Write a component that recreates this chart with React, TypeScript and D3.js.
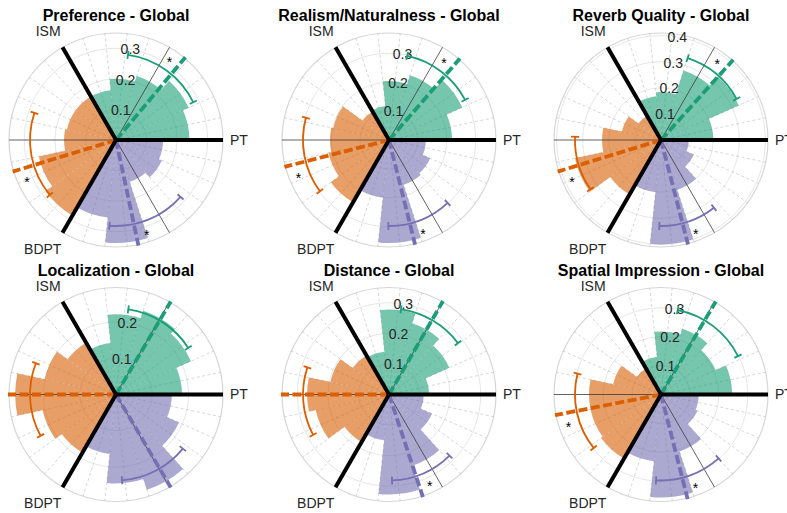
import React, { useRef, useEffect } from "react";
import * as d3 from "d3";

// bins are 24 degrees wide, 5 per sector (PT->ISM green, ISM->BDPT orange, BDPT->PT purple)
const binStarts = [0, 24, 48, 72, 96, 120, 144, 168, 192, 216, 240, 264, 288, 312, 336];
const groupColors = ["#1b9e77", "#d95f02", "#7570b3"];
const sectorLabels = ["PT", "ISM", "BDPT"];
const sectorAngles = [0, 120, 240];
const midAngles = [60, 180, 300];

const titles = [
  "Preference - Global",
  "Realism/Naturalness - Global",
  "Reverb Quality - Global",
  "Localization - Global",
  "Distance - Global",
  "Spatial Impression - Global",
];
const rLims = [0.35, 0.37, 0.41, 0.295, 0.35, 0.37];
const rTicks = [
  [0.1, 0.2, 0.3],
  [0.1, 0.2, 0.3],
  [0.1, 0.2, 0.3, 0.4],
  [0.1, 0.2],
  [0.1, 0.2, 0.3],
  [0.1, 0.2, 0.3],
];

// probability per bin, one array per group
const preferencePT = [0.24, 0.26, 0.22, 0.2, 0.164];
const preferenceISM = [0.164, 0.164, 0.17, 0.258, 0.285];
const preferenceBDPT = [0.255, 0.337, 0.144, 0.164, 0.154];

const realismPT = [0.218, 0.277, 0.235, 0.204, 0.118];
const realismISM = [0.114, 0.197, 0.204, 0.214, 0.249];
const realismBDPT = [0.2, 0.356, 0.163, 0.156, 0.128];

const reverbPT = [0.2, 0.326, 0.28, 0.184, 0.169];
const reverbISM = [0.107, 0.153, 0.226, 0.337, 0.241];
const reverbBDPT = [0.2, 0.4, 0.2, 0.138, 0.107];

const localizationPT = [0.182, 0.226, 0.243, 0.221, 0.143];
const localizationISM = [0.165, 0.201, 0.278, 0.207, 0.185];
const localizationBDPT = [0.165, 0.245, 0.276, 0.19, 0.154];

const distancePT = [0.131, 0.216, 0.245, 0.278, 0.141];
const distanceISM = [0.147, 0.196, 0.268, 0.245, 0.18];
const distanceBDPT = [0.15, 0.327, 0.245, 0.154, 0.114];

const spatialPT = [0.246, 0.207, 0.239, 0.218, 0.131];
const spatialISM = [0.104, 0.169, 0.249, 0.249, 0.256];
const spatialBDPT = [0.232, 0.356, 0.207, 0.138, 0.131];

// circular mean direction (deg), confidence interval (deg), significance
const meanDirs = [
  [50, 197, 282],
  [49, 194.4, 284],
  [48, 197, 284.5],
  [59.5, 180, 300.5],
  [60, 180, 288.3],
  [59.5, 191, 284.3],
];
const ciBounds = [
  [[26, 82], [161.6, 219.7], [265.6, 318.6]],
  [[27.8, 77.8], [165, 216.6], [269.6, 313]],
  [[28.5, 72], [177.8, 214.9], [268.9, 308]],
  [[32.8, 81.8], [158.7, 208.7], [274, 321]],
  [[36.7, 82], [161.6, 208], [272, 314.7]],
  [[26.5, 78.8], [166, 218.5], [266.7, 312]],
];
const significant = [
  [true, true, true],
  [true, true, true],
  [true, true, true],
  [false, false, false],
  [false, false, true],
  [false, true, true],
];

const binValues = [
  [preferencePT, preferenceISM, preferenceBDPT],
  [realismPT, realismISM, realismBDPT],
  [reverbPT, reverbISM, reverbBDPT],
  [localizationPT, localizationISM, localizationBDPT],
  [distancePT, distanceISM, distanceBDPT],
  [spatialPT, spatialISM, spatialBDPT],
];

const FONT = "'Liberation Sans', Arial, Helvetica, sans-serif";

export default function App() {
  const svgRef = useRef<SVGSVGElement>(null);

  useEffect(() => {
    const width = 787;
    const height = 513;
    const R = 107;
    const colX = [116, 389, 661];
    const rowY = [140, 394.5];

    const svg = d3.select(svgRef.current)
      .attr("width", width)
      .attr("height", height);
    svg.selectAll("*").remove();

    const rad = (d: number) => (d * Math.PI) / 180;
    const pol = (r: number, deg: number) => [r * Math.cos(rad(deg)), -r * Math.sin(rad(deg))];

    titles.forEach((title, i) => {
      const cx = colX[i % 3];
      const cy = rowY[Math.floor(i / 3)];
      const r = d3.scaleLinear().domain([0, rLims[i]]).range([0, R]);

      const g = svg.append("g").attr("transform", `translate(${cx},${cy})`);

      // title
      svg.append("text")
        .attr("x", cx)
        .attr("y", cy - 119)
        .attr("text-anchor", "middle")
        .attr("font-family", FONT)
        .attr("font-weight", "bold")
        .attr("font-size", 16)
        .attr("fill", "#000")
        .text(title);

      // grid
      g.append("circle").attr("r", R).attr("fill", "none").attr("stroke", "#d6d6d6").attr("stroke-width", 1.2);
      g.selectAll(".rgrid")
        .data(rTicks[i])
        .join("circle")
        .attr("r", (d) => r(d))
        .attr("fill", "none")
        .attr("stroke", "#e0e0e0")
        .attr("stroke-width", 0.8);
      g.selectAll(".tgrid")
        .data(d3.range(0, 360, 12).filter((a) => a % 60 !== 0))
        .join("line")
        .attr("x1", 0)
        .attr("y1", 0)
        .attr("x2", (a) => pol(R, a)[0])
        .attr("y2", (a) => pol(R, a)[1])
        .attr("stroke", "#c4c4c4")
        .attr("stroke-width", 0.7)
        .attr("stroke-dasharray", "3,2.5");

      // bars
      const arc = d3.arc<any>();
      binValues[i].forEach((vals, gi) => {
        g.append("g")
          .attr("fill", groupColors[gi])
          .attr("fill-opacity", 0.6)
          .selectAll("path")
          .data(vals)
          .join("path")
          .attr("d", (v, j) => {
            const a0 = binStarts[gi * 5 + j];
            const a1 = a0 + 24;
            return arc({
              innerRadius: 0,
              outerRadius: r(v),
              startAngle: rad(90 - a1),
              endAngle: rad(90 - a0),
            });
          });
      });

      // thin reference lines at sector middles
      g.selectAll(".mid")
        .data(midAngles)
        .join("line")
        .attr("x1", 0)
        .attr("y1", 0)
        .attr("x2", (a) => pol(R, a)[0])
        .attr("y2", (a) => pol(R, a)[1])
        .attr("stroke", "#3a3a3a")
        .attr("stroke-width", 0.8);

      // r tick labels
      g.selectAll(".rlab")
        .data(rTicks[i])
        .join("text")
        .attr("x", (d) => pol(r(d), 81)[0])
        .attr("y", (d) => pol(r(d), 81)[1])
        .attr("dy", "0.35em")
        .attr("text-anchor", "middle")
        .attr("font-family", FONT)
        .attr("font-size", 14)
        .attr("fill", "#262626")
        .text((d) => d3.format(".1f")(d));

      // mean direction lines
      meanDirs[i].forEach((m, gi) => {
        const [x2, y2] = pol(R + 1, m);
        g.append("line")
          .attr("x1", 0)
          .attr("y1", 0)
          .attr("x2", x2)
          .attr("y2", y2)
          .attr("stroke", groupColors[gi])
          .attr("stroke-width", 3.8)
          .attr("stroke-dasharray", "9,3.5");
      });

      // confidence arcs with caps
      const arcR = 86;
      ciBounds[i].forEach(([lo, hi], gi) => {
        const p = d3.path();
        p.arc(0, 0, arcR, rad(-lo), rad(-hi), true);
        g.append("path")
          .attr("d", p.toString())
          .attr("fill", "none")
          .attr("stroke", groupColors[gi])
          .attr("stroke-width", 1.8);
        [lo, hi].forEach((a) => {
          const [xa, ya] = pol(arcR - 4, a);
          const [xb, yb] = pol(arcR + 4, a);
          g.append("line")
            .attr("x1", xa).attr("y1", ya)
            .attr("x2", xb).attr("y2", yb)
            .attr("stroke", groupColors[gi])
            .attr("stroke-width", 1.8);
        });
      });

      // sector boundaries
      g.selectAll(".sector")
        .data(sectorAngles)
        .join("line")
        .attr("x1", 0)
        .attr("y1", 0)
        .attr("x2", (a) => pol(R, a)[0])
        .attr("y2", (a) => pol(R, a)[1])
        .attr("stroke", "#000")
        .attr("stroke-width", 4);

      // significance stars
      significant[i].forEach((s, gi) => {
        if (!s) return;
        const [x, y] = pol(97, meanDirs[i][gi] + 6.5);
        g.append("text")
          .attr("x", x)
          .attr("y", y + 8)
          .attr("text-anchor", "middle")
          .attr("font-family", FONT)
          .attr("font-size", 14)
          .attr("fill", "#000")
          .text("*");
      });

      // sector labels
      const labelPos = [pol(R + 7, 0), pol(R + 21, 122), pol(R + 24, 236)];
      sectorLabels.forEach((lab, k) => {
        g.append("text")
          .attr("x", labelPos[k][0])
          .attr("y", labelPos[k][1])
          .attr("dy", "0.35em")
          .attr("text-anchor", k === 0 ? "start" : "middle")
          .attr("font-family", FONT)
          .attr("font-size", 14)
          .attr("fill", "#262626")
          .text(lab);
      });
    });
  }, []);

  return <svg ref={svgRef} style={{ position: "absolute", left: 0, top: 0, background: "#fff" }}></svg>;
}
